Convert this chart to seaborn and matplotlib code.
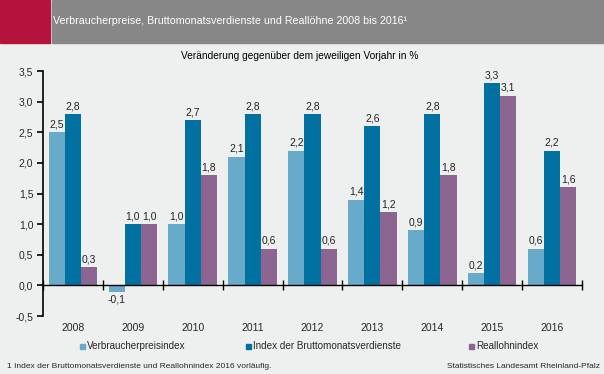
import matplotlib
matplotlib.use("Agg")
import matplotlib.pyplot as plt
import matplotlib.patches as mpatches
from matplotlib.ticker import FixedLocator
import seaborn as sns
import pandas as pd
import numpy as np

# ─────────────────────────────────────────────
# Data
# ─────────────────────────────────────────────
years     = ["2008", "2009", "2010", "2011", "2012", "2013", "2014", "2015", "2016"]
series    = ["Verbraucherpreisindex", "Index der Bruttomonatsverdienste", "Reallohnindex"]
vpi       = [2.5, -0.1, 1.0, 2.1, 2.2, 1.4, 0.9, 0.2, 0.6]
brutto    = [2.8, 1.0, 2.7, 2.8, 2.8, 2.6, 2.8, 3.3, 2.2]
reallohn  = [0.3, 1.0, 1.8, 0.6, 0.6, 1.2, 1.8, 3.1, 1.6]
y_ticks   = [-0.5, 0.0, 0.5, 1.0, 1.5, 2.0, 2.5, 3.0, 3.5]

title    = "Verbraucherpreise, Bruttomonatsverdienste und Reallöhne 2008 bis 2016¹"
subtitle = "Veränderung gegenüber dem jeweiligen Vorjahr in %"
footnote = "1 Index der Bruttomonatsverdienste und Reallohnindex 2016 vorläufig."
source   = "Statistisches Landesamt Rheinland-Pfalz"

colors = ["#67AAC9", "#0071A1", "#8C6690"]
BG     = "#EEF0EF"

df = pd.DataFrame({
    "Jahr":  years * 3,
    "Reihe": [series[0]] * 9 + [series[1]] * 9 + [series[2]] * 9,
    "Wert":  vpi + brutto + reallohn,
})

sns.set_theme(style="white")
plt.rcParams["font.family"] = ["Liberation Sans", "DejaVu Sans"]

fig = plt.figure(figsize=(6.04, 3.74), dpi=100, facecolor=BG)
ax = fig.add_axes([43 / 604, 1 - 316 / 374, (582 - 43) / 604, (316 - 71) / 374])
ax.set_facecolor(BG)

sns.barplot(data=df, x="Jahr", y="Wert", hue="Reihe", palette=colors,
            width=0.81, gap=0, saturation=1, linewidth=0, ax=ax, legend=False)

# bar labels with comma decimals
for cont in ax.containers:
    labels = [f"{v:.1f}".replace(".", ",") for v in cont.datavalues]
    ax.bar_label(cont, labels=labels, padding=2, fontsize=7.5, color="#222222")

ax.set_xlim(-0.5, 8.5)
ax.set_ylim(-0.5, 3.5)
ax.yaxis.set_major_locator(FixedLocator(y_ticks))
ax.set_yticklabels([f"{t:.1f}".replace(".", ",") for t in y_ticks], fontsize=7.5)
ax.set_xlabel("")
ax.set_ylabel("")

# axes lines
for s in ["top", "right"]:
    ax.spines[s].set_visible(False)
ax.spines["left"].set_color("black")
ax.spines["left"].set_linewidth(1.2)
ax.spines["bottom"].set_position(("data", 0))
ax.spines["bottom"].set_color("black")
ax.spines["bottom"].set_linewidth(1.0)

ax.tick_params(axis="y", which="major", direction="out", length=4, width=1.2,
               color="black", pad=3, left=True)
ax.xaxis.set_minor_locator(FixedLocator(np.arange(-0.5, 9, 1.0)))
ax.tick_params(axis="x", which="minor", direction="inout", length=7, width=1.0,
               color="black", bottom=True)
ax.tick_params(axis="x", which="major", length=0, pad=27, labelsize=7.5)

# header
fig.patches.append(mpatches.Rectangle((0, 1 - 43 / 374), 50 / 604, 43 / 374,
                                      transform=fig.transFigure, color="#B5123E", zorder=0))
fig.patches.append(mpatches.Rectangle((52 / 604, 1 - 43 / 374), 1 - 52 / 604, 43 / 374,
                                      transform=fig.transFigure, color="#878787", zorder=0))
fig.text(53 / 604, 1 - 21 / 374, title, color="white", fontsize=7.7, va="center", ha="left")
fig.text(300 / 604, 1 - 56 / 374, subtitle, color="black", fontsize=7.25, va="center", ha="center")

# legend, one entry per position
legend_x = [80, 246, 469]
for name, c, lx in zip(series, colors, legend_x):
    h = plt.Line2D([], [], marker="s", linestyle="", color=c, markersize=3.6)
    fig.legend([h], [name], loc="center left", bbox_to_anchor=(lx / 604, 1 - 346 / 374),
               frameon=False, fontsize=7.1, handlelength=0.5, handletextpad=0.22,
               borderaxespad=0, borderpad=0)

fig.text(7 / 604, 1 - 367 / 374, footnote, fontsize=6, va="center", ha="left")
fig.text(600 / 604, 1 - 367 / 374, source, fontsize=6, va="center", ha="right")

plt.savefig("out.png", dpi=100, facecolor=BG)
